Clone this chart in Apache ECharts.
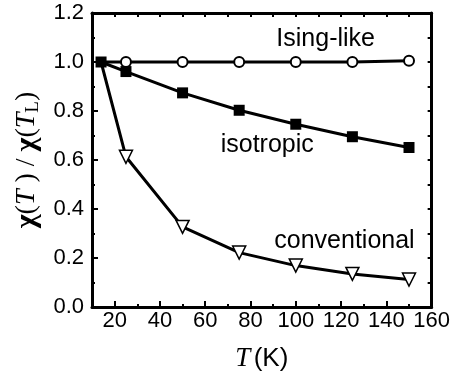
<!DOCTYPE html>
<html>
<head>
<meta charset="utf-8">
<script src="https://cdn.jsdelivr.net/npm/echarts@6/dist/echarts.min.js"></script>
<style>
  html, body { margin: 0; padding: 0; background: #fff; }
  #chart { width: 453px; height: 377px; }
</style>
</head>
<body>
<div id="chart"></div>
<script>
// temperatures (K) and normalised susceptibility
const temps = [14, 25, 50, 75, 100, 125, 150];
const isingLike = [1.0, 1.0, 1.0, 1.0, 1.0, 1.0, 1.005];
const isotropic = [1.0, 0.961, 0.874, 0.803, 0.746, 0.695, 0.651];
const conventional = [1.0, 0.613, 0.327, 0.222, 0.169, 0.135, 0.112];

const xMajor = [20, 40, 60, 80, 100, 120, 140, 160];
const xMinor = [30, 50, 70, 90, 110, 130, 150];
const xTop = [20, 30, 40, 50, 60, 70, 80, 90, 100, 110, 120, 130, 140, 150];

// label positions in data space
const curveLabels = [
  { name: "Ising-like", at: [113.2, 1.092] },
  { name: "isotropic", at: [87.4, 0.659] },
  { name: "conventional", at: [121.5, 0.269] }
];

// first point of each curve sits under the isotropic square
const pairs = (ys, hideFirst) =>
  temps.map((t, i) =>
    i === 0 && hideFirst ? { value: [t, ys[i]], symbol: "none" } : [t, ys[i]]
  );

const chart = echarts.init(document.getElementById("chart"));

const lineW = 3;
const axisLine = { show: true, lineStyle: { color: "#000", width: lineW } };
const sans = "Liberation Sans, Arial, Helvetica, sans-serif";
const serif = "Liberation Serif, Times New Roman, serif";

const option = {
  backgroundColor: "#fff",
  animation: false,
  grid: { left: 92, right: 18, top: 13, bottom: 65 },
  xAxis: [
    {
      type: "value",
      min: 10,
      max: 160,
      position: "bottom",
      axisLine: axisLine,
      splitLine: { show: false },
      axisTick: { inside: true, length: 6, customValues: xMajor, lineStyle: { color: "#000", width: 2 } },
      axisLabel: { customValues: xMajor, color: "#000", fontSize: 22, fontFamily: sans, margin: 3 },
      name: "{t|T} {k|(K)}",
      nameLocation: "middle",
      nameGap: 38,
      nameTextStyle: {
        rich: {
          t: { fontFamily: serif, fontStyle: "italic", fontSize: 27, color: "#000" },
          k: { fontFamily: sans, fontSize: 26, color: "#000" }
        }
      }
    },
    {
      type: "value",
      min: 10,
      max: 160,
      position: "bottom",
      axisLine: { show: false },
      splitLine: { show: false },
      axisTick: { inside: true, length: 3, customValues: xMinor, lineStyle: { color: "#000", width: 2 } },
      axisLabel: { show: false }
    },
    {
      type: "value",
      min: 10,
      max: 160,
      position: "top",
      axisLine: axisLine,
      splitLine: { show: false },
      axisTick: { inside: true, length: 4, customValues: xTop, lineStyle: { color: "#000", width: 2 } },
      axisLabel: { show: false }
    }
  ],
  yAxis: [
    {
      type: "value",
      min: 0,
      max: 1.2,
      interval: 0.2,
      position: "left",
      axisLine: axisLine,
      splitLine: { show: false },
      axisTick: { inside: true, length: 6, lineStyle: { color: "#000", width: 2 } },
      minorTick: { show: true, splitNumber: 2, length: 3, lineStyle: { color: "#000", width: 2 } },
      axisLabel: {
        color: "#000",
        fontSize: 22,
        fontFamily: sans,
        margin: 8,
        formatter: (v) => v.toFixed(1)
      },
      name: "{x|χ}{c|(}{t|T }{c|) / }{x|χ}{c|(}{t|T}{s|L}{c|)}",
      nameLocation: "middle",
      nameGap: 48,
      nameRotate: 90,
      nameTextStyle: {
        rich: {
          x: { fontFamily: serif, fontWeight: "bold", fontSize: 30, color: "#000" },
          c: { fontFamily: serif, fontSize: 28, color: "#000" },
          t: { fontFamily: serif, fontStyle: "italic", fontSize: 28, color: "#000" },
          s: { fontFamily: serif, fontSize: 19, color: "#000", padding: [12, 0, 0, 0] }
        }
      }
    },
    {
      type: "value",
      min: 0,
      max: 1.2,
      interval: 0.1,
      position: "right",
      axisLine: axisLine,
      splitLine: { show: false },
      axisTick: { inside: true, length: 4, lineStyle: { color: "#000", width: 2 } },
      axisLabel: { show: false }
    }
  ],
  series: [
    {
      name: "conventional",
      type: "line",
      data: pairs(conventional, true),
      symbol: "triangle",
      symbolRotate: 180,
      symbolSize: 13,
      itemStyle: { color: "#fff", borderColor: "#000", borderWidth: 1.5 },
      lineStyle: { color: "#000", width: lineW },
      z: 2
    },
    {
      name: "Ising-like",
      type: "line",
      data: pairs(isingLike, true),
      symbol: "circle",
      symbolSize: 10,
      itemStyle: { color: "#fff", borderColor: "#000", borderWidth: 2 },
      lineStyle: { color: "#000", width: lineW },
      z: 3
    },
    {
      name: "isotropic",
      type: "line",
      data: pairs(isotropic, false),
      symbol: "rect",
      symbolSize: 11,
      itemStyle: { color: "#000" },
      lineStyle: { color: "#000", width: lineW },
      z: 4,
      markPoint: {
        symbol: "circle",
        symbolSize: 0,
        silent: true,
        label: {
          show: true,
          position: "inside",
          color: "#000",
          fontSize: 25,
          fontFamily: sans,
          formatter: (p) => p.name
        },
        data: curveLabels.map((l) => ({ name: l.name, coord: l.at }))
      }
    }
  ]
};

chart.setOption(option);
</script>
</body>
</html>
